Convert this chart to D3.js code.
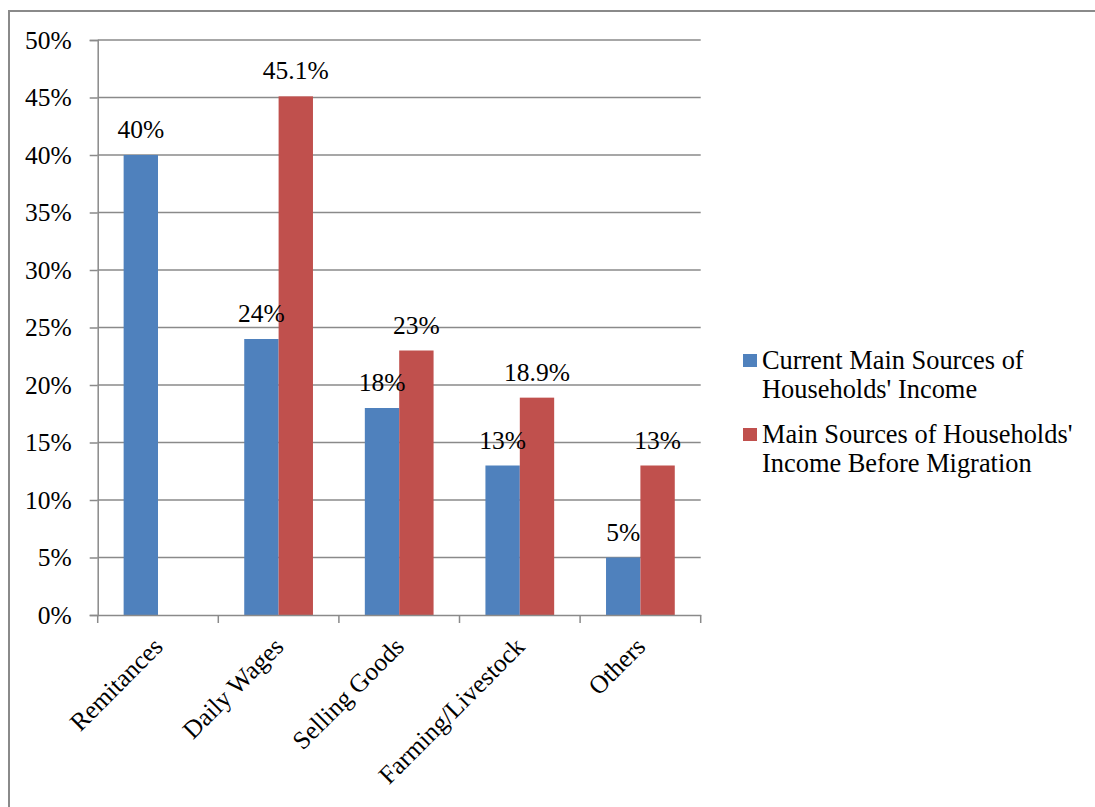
<!DOCTYPE html>
<html>
<head>
<meta charset="utf-8">
<script src="https://cdn.jsdelivr.net/npm/d3@7"></script>
<style>
  html, body { margin: 0; padding: 0; background: #fff; }
  svg { display: block; }
  text { font-family: "Liberation Serif", "Times New Roman", serif; fill: #000; }
</style>
</head>
<body>
<svg id="chart" width="1095" height="807"></svg>
<script>
// Income sources before and after migration (share of households)
const categories = ["Remitances", "Daily Wages", "Selling Goods", "Farming/Livestock", "Others"];
const seriesNames = ["Current Main Sources of Households' Income", "Main Sources of Households' Income Before Migration"];
const legendLines = [["Current Main Sources of", "Households' Income"], ["Main Sources of Households'", "Income Before Migration"]];
const currentValues = [40, 24, 18, 13, 5];
const beforeValues = [null, 45.1, 23, 18.9, 13];
const labelCurrent = ["40%", "24%", "18%", "13%", "5%"];
const labelBefore = [null, "45.1%", "23%", "18.9%", "13%"];
const yTicks = [0, 5, 10, 15, 20, 25, 30, 35, 40, 45, 50];
const colors = ["#4F81BD", "#C0504D"];

const FONT = 25.5;
const svg = d3.select("#chart");

// outer chart frame (runs off the right and bottom edges)
svg.append("rect")
  .attr("x", 9).attr("y", 11)
  .attr("width", 1200).attr("height", 900)
  .attr("fill", "none").attr("stroke", "#8a8a8a").attr("stroke-width", 2);

const plot = { left: 97.7, right: 700.7, top: 40, bottom: 615 };

const y = d3.scaleLinear().domain([0, 50]).range([plot.bottom, plot.top]);
const x = d3.scaleBand().domain(categories).range([plot.left, plot.right]).padding(0);
const groupW = x.bandwidth() * 0.57;
const x1 = d3.scaleBand().domain(seriesNames).range([0, groupW]).padding(0);

const gridColor = "#8a8a8a";

// horizontal gridlines
svg.append("g").selectAll("line").data(yTicks.filter(d => d > 0)).join("line")
  .attr("x1", plot.left).attr("x2", plot.right)
  .attr("y1", d => y(d)).attr("y2", d => y(d))
  .attr("stroke", gridColor).attr("stroke-width", 1.5);

// y axis
const yAxis = d3.axisLeft(y).tickValues(yTicks).tickFormat(d => d + "%").tickSize(8).tickPadding(18);
const gy = svg.append("g").attr("transform", `translate(${plot.left},0)`).call(yAxis);
gy.select(".domain").attr("stroke", gridColor).attr("stroke-width", 1.5);
gy.selectAll(".tick line").attr("stroke", gridColor).attr("stroke-width", 1.5);
gy.selectAll(".tick text").attr("font-size", FONT).attr("font-family", "Liberation Serif").attr("fill", "#000");

// bars
const rows = categories.map((c, i) => ({ cat: c, vals: [currentValues[i], beforeValues[i]], labels: [labelCurrent[i], labelBefore[i]] }));
const groups = svg.append("g").selectAll("g").data(rows).join("g")
  .attr("transform", d => `translate(${x(d.cat) + (x.bandwidth() - groupW) / 2},0)`);

const items = d => seriesNames.map((s, k) => ({ s, k, v: d.vals[k], label: d.labels[k] })).filter(e => e.v != null);

groups.selectAll("rect").data(items).join("rect")
  .attr("x", e => x1(e.s))
  .attr("width", x1.bandwidth())
  .attr("y", e => y(e.v))
  .attr("height", e => y(0) - y(e.v))
  .attr("fill", e => colors[e.k]);

groups.selectAll("text").data(items).join("text")
  .attr("x", e => x1(e.s) + x1.bandwidth() / 2)
  .attr("y", e => y(e.v) - 17)
  .attr("text-anchor", "middle")
  .attr("font-size", FONT)
  .text(e => e.label);

// x axis
const xAxis = d3.axisBottom(x).tickSize(0).tickFormat("");
const gx = svg.append("g").attr("transform", `translate(0,${plot.bottom})`).call(xAxis);
gx.select(".domain").attr("stroke", gridColor).attr("stroke-width", 1.5);
gx.selectAll(".tick").remove();
const bounds = categories.map(c => x(c)).concat([plot.right]);
gx.selectAll("line.sep").data(bounds).join("line").attr("class", "sep")
  .attr("x1", d => d).attr("x2", d => d).attr("y1", 0).attr("y2", 8)
  .attr("stroke", gridColor).attr("stroke-width", 1.5);

svg.append("g").selectAll("text").data(categories).join("text")
  .attr("transform", d => `translate(${x(d) + x.bandwidth() / 2},642) rotate(-45)`)
  .attr("text-anchor", "end")
  .attr("dy", "0.35em")
  .attr("font-size", FONT)
  .text(d => d);

// legend
const legend = svg.append("g").selectAll("g").data(seriesNames).join("g")
  .attr("transform", (d, i) => `translate(743,${354 + i * 74})`);
legend.append("rect").attr("width", 14).attr("height", 13).attr("fill", (d, i) => colors[i]);
legend.append("text").attr("x", 19).attr("y", 15).attr("font-size", 26.4)
  .selectAll("tspan").data((d, i) => legendLines[i]).join("tspan")
  .attr("x", 19).attr("dy", (t, j) => j === 0 ? 0 : 29)
  .text(t => t);
</script>
</body>
</html>
